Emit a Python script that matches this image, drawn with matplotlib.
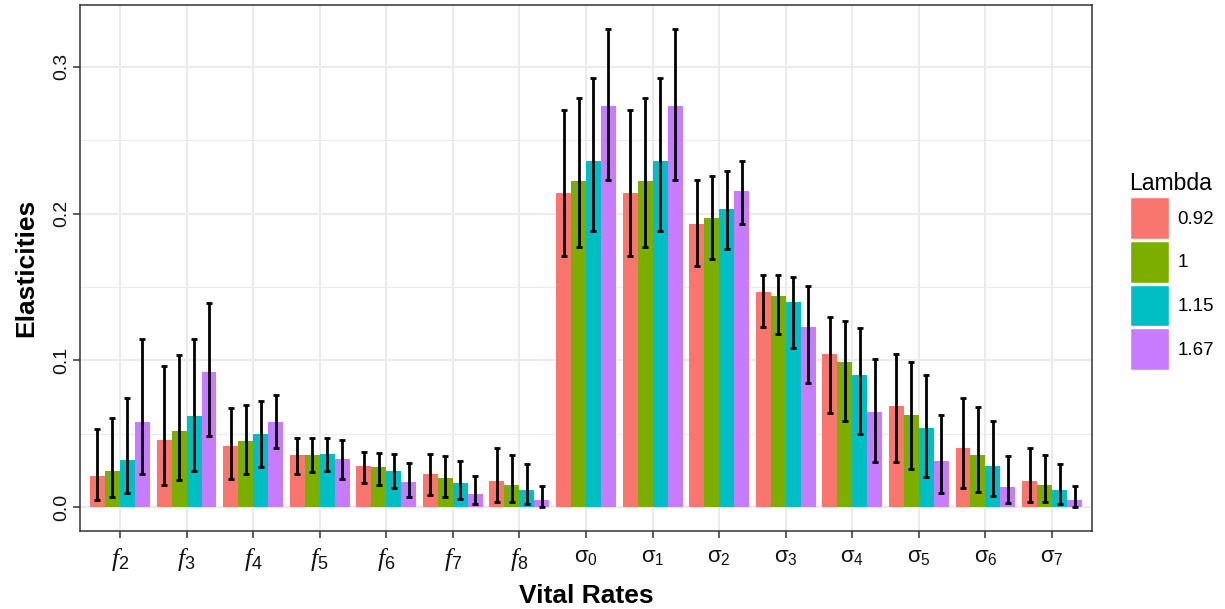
import numpy as np
import matplotlib
matplotlib.use("Agg")
import matplotlib.pyplot as plt
from matplotlib.patches import Patch

categories = [r"$f_\mathrm{2}$", r"$f_\mathrm{3}$", r"$f_\mathrm{4}$", r"$f_\mathrm{5}$",
              r"$f_\mathrm{6}$", r"$f_\mathrm{7}$", r"$f_\mathrm{8}$",
              r"$\mathrm{\sigma}_\mathrm{0}$", r"$\mathrm{\sigma}_\mathrm{1}$",
              r"$\mathrm{\sigma}_\mathrm{2}$", r"$\mathrm{\sigma}_\mathrm{3}$",
              r"$\mathrm{\sigma}_\mathrm{4}$", r"$\mathrm{\sigma}_\mathrm{5}$",
              r"$\mathrm{\sigma}_\mathrm{6}$", r"$\mathrm{\sigma}_\mathrm{7}$"]
lambdas = ["0.92", "1", "1.15", "1.67"]

val_092 = [0.0209, 0.0460, 0.0415, 0.0352, 0.0283, 0.0228, 0.0177,
           0.2140, 0.2140, 0.1929, 0.1466, 0.1045, 0.0690, 0.0405, 0.0175]
val_1 = [0.0249, 0.0521, 0.0447, 0.0354, 0.0270, 0.0201, 0.0148,
         0.2220, 0.2220, 0.1971, 0.1442, 0.0989, 0.0630, 0.0357, 0.0148]
val_115 = [0.0323, 0.0624, 0.0497, 0.0360, 0.0249, 0.0167, 0.0114,
           0.2357, 0.2357, 0.2029, 0.1400, 0.0900, 0.0537, 0.0283, 0.0114]
val_167 = [0.0582, 0.0918, 0.0577, 0.0328, 0.0172, 0.0090, 0.0045,
           0.2735, 0.2735, 0.2151, 0.1230, 0.0646, 0.0315, 0.0135, 0.0045]

upper_092 = [0.0532, 0.0963, 0.0675, 0.0471, 0.0378, 0.0365, 0.0400,
             0.2704, 0.2704, 0.2228, 0.1585, 0.1294, 0.1040, 0.0743, 0.0400]
lower_092 = [0.0050, 0.0153, 0.0193, 0.0228, 0.0161, 0.0085, 0.0034,
             0.1712, 0.1712, 0.1646, 0.1230, 0.0640, 0.0304, 0.0127, 0.0034]
upper_1 = [0.0608, 0.1037, 0.0696, 0.0471, 0.0370, 0.0347, 0.0357,
           0.2791, 0.2791, 0.2254, 0.1579, 0.1270, 0.0992, 0.0683, 0.0357]
lower_1 = [0.0066, 0.0185, 0.0225, 0.0241, 0.0148, 0.0071, 0.0032,
           0.1772, 0.1772, 0.1690, 0.1177, 0.0585, 0.0262, 0.0106, 0.0032]
upper_115 = [0.0746, 0.1148, 0.0720, 0.0471, 0.0360, 0.0312, 0.0291,
             0.2923, 0.2923, 0.2291, 0.1571, 0.1220, 0.0902, 0.0590, 0.0291]
lower_115 = [0.0093, 0.0249, 0.0275, 0.0249, 0.0127, 0.0053, 0.0019,
             0.1881, 0.1881, 0.1762, 0.1087, 0.0497, 0.0206, 0.0077, 0.0019]
upper_167 = [0.1148, 0.1394, 0.0762, 0.0455, 0.0302, 0.0209, 0.0146,
             0.3259, 0.3259, 0.2357, 0.1505, 0.1011, 0.0630, 0.0347, 0.0146]
lower_167 = [0.0225, 0.0484, 0.0402, 0.0193, 0.0066, 0.0019, 0.0003,
             0.2228, 0.2228, 0.1931, 0.0844, 0.0304, 0.0098, 0.0026, 0.0003]

yticks = [0.0, 0.1, 0.2, 0.3]
ytick_labels = ["0.0", "0.1", "0.2", "0.3"]
colors = ["#F8766D", "#7CAE00", "#00BFC4", "#C77CFF"]

values = [val_092, val_1, val_115, val_167]
uppers = [upper_092, upper_1, upper_115, upper_167]
lowers = [lower_092, lower_1, lower_115, lower_167]

plt.rcParams["font.family"] = ["Liberation Sans", "DejaVu Sans"]
plt.rcParams["mathtext.fontset"] = "custom"
plt.rcParams["mathtext.it"] = "Liberation Serif:italic"
plt.rcParams["mathtext.rm"] = "Liberation Sans"
plt.rcParams["mathtext.sf"] = "Liberation Sans"

fig = plt.figure(figsize=(12.25, 6.09), dpi=100)
ax = fig.add_axes([80 / 1225, 1 - 531 / 609, (1092 - 80) / 1225, (531 - 5) / 609])

x = np.arange(1, len(categories) + 1)
n = len(lambdas)
bw = 0.9 / n
for i in range(n):
    pos = x - 0.45 + bw * (i + 0.5)
    v = np.array(values[i])
    ax.bar(pos, v, width=bw, color=colors[i], zorder=2, linewidth=0)
    up = np.array(uppers[i]); lo = np.array(lowers[i])
    ax.errorbar(pos, v, yerr=[v - lo, up - v], fmt="none", ecolor="black",
                elinewidth=2.0, capsize=2.2, capthick=2.0, zorder=3)

ax.set_xlim(0.4, len(categories) + 0.6)
ax.set_ylim(-0.0163, 0.3422)
ax.set_xticks(x)
ax.set_xticklabels(categories, fontsize=16.5)
for lab in ax.get_xticklabels():
    if "sigma" in lab.get_text():
        lab.set_fontsize(16)
    else:
        lab.set_fontsize(18.5)
ax.set_yticks(yticks)
ax.set_yticklabels(ytick_labels, fontsize=14, rotation=90, va="center")
ax.set_yticks([0.05, 0.15, 0.25], minor=True)
ax.tick_params(axis="y", which="minor", length=0)
ax.tick_params(axis="both", which="major", length=5, width=1.1, color="#333333",
               labelcolor="#111111", direction="out")
ax.tick_params(axis="x", pad=6)
ax.tick_params(axis="y", pad=2)

ax.grid(True, which="major", color="#EBEBEB", linewidth=1.4, zorder=0)
ax.grid(True, which="minor", axis="y", color="#EBEBEB", linewidth=0.8, zorder=0)
ax.set_axisbelow(True)
for s in ax.spines.values():
    s.set_color("#333333")
    s.set_linewidth(1.1)

ax.set_xlabel("Vital Rates", fontsize=19, fontweight="bold", labelpad=8)
ax.set_ylabel("Elasticities", fontsize=19, fontweight="bold", labelpad=11)

handles = [Patch(facecolor=c, edgecolor="white", linewidth=1.0) for c in colors]
leg = fig.legend(handles, lambdas, loc="upper left", bbox_to_anchor=(1122 / 1225, 1 - 165 / 609),
                 frameon=False, fontsize=13.5, title="Lambda", title_fontsize=16.5,
                 handlelength=2.1, handleheight=3.05, labelspacing=0.1,
                 handletextpad=0.45, alignment="left", borderaxespad=0)

fig.savefig("out.png", dpi=100)
